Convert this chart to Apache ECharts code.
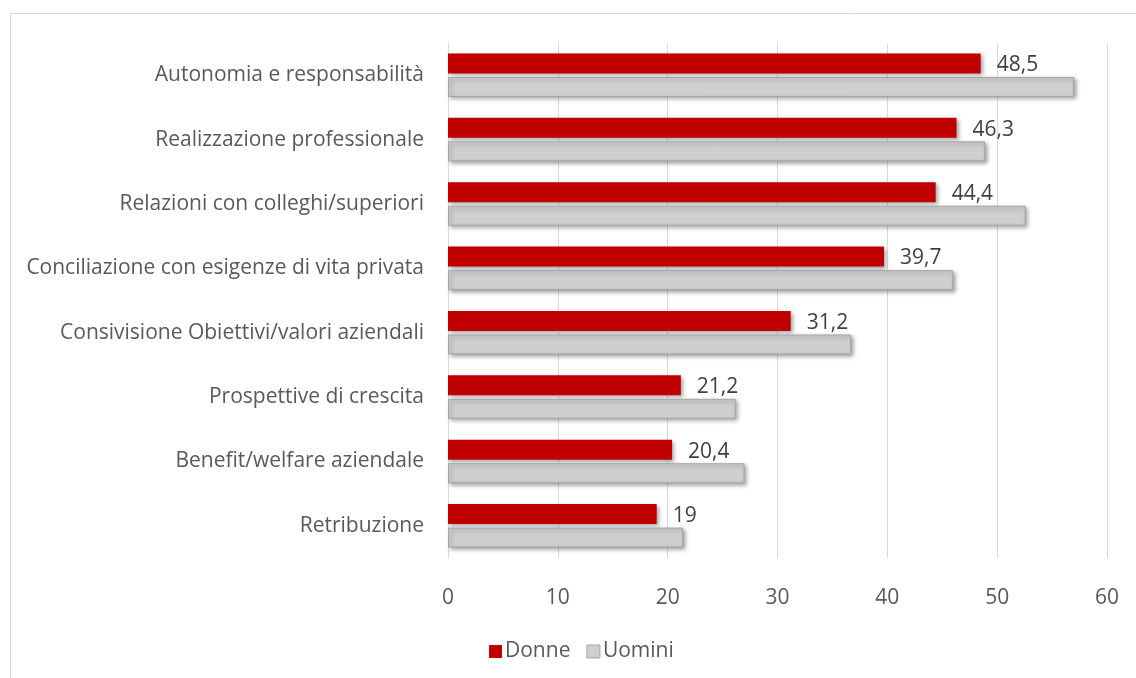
<!DOCTYPE html>
<html>
<head>
<meta charset="utf-8">
<script src="https://cdn.jsdelivr.net/npm/echarts@6/dist/echarts.min.js"></script>
<style>
  html, body { margin: 0; padding: 0; background: #ffffff; }
  #chart { width: 1136px; height: 678px; }
</style>
</head>
<body>
<div id="chart"></div>
<script>
// Categories (top to bottom)
const categories = [
  'Autonomia e responsabilità',
  'Realizzazione professionale',
  'Relazioni con colleghi/superiori',
  'Conciliazione con esigenze di vita privata',
  'Consivisione Obiettivi/valori aziendali',
  'Prospettive di crescita',
  'Benefit/welfare aziendale',
  'Retribuzione'
];
// Series values
const donne = [48.5, 46.3, 44.4, 39.7, 31.2, 21.2, 20.4, 19];
const uomini = [57.0, 48.9, 52.6, 46.0, 36.7, 26.2, 27.0, 21.4];
// Value axis ticks
const xTicks = [0, 10, 20, 30, 40, 50, 60];

const FONT = '"Open Sans", "Noto Sans", sans-serif';
const FS = 21;
const chart = echarts.init(document.getElementById('chart'), null, { renderer: 'canvas' });

const shadow = {
  shadowColor: 'rgba(0,0,0,0.35)',
  shadowBlur: 4,
  shadowOffsetX: 2,
  shadowOffsetY: 2
};

chart.setOption({
  backgroundColor: '#ffffff',
  animation: false,
  graphic: [{
    type: 'rect',
    shape: { x: 10.5, y: 13.5, width: 1140, height: 700 },
    style: { fill: 'none', stroke: '#D9D9D9', lineWidth: 1 },
    silent: true,
    z: -1
  }],
  grid: { left: 448, right: 29, top: 43, bottom: 120, containLabel: false },
  legend: {
    data: [
      { name: 'Donne' },
      { name: 'Uomini', itemStyle: { borderColor: '#A6A6A6', borderWidth: 1 } }
    ],
    icon: 'rect',
    left: 484,
    top: 636,
    itemWidth: 13,
    itemHeight: 13,
    itemGap: 16,
    textStyle: { fontFamily: FONT, fontSize: FS, color: '#595959', padding: [0, 0, 0, -2] }
  },
  xAxis: {
    type: 'value',
    min: xTicks[0],
    max: xTicks[xTicks.length - 1],
    interval: xTicks[1] - xTicks[0],
    axisLine: { show: false },
    axisTick: { show: false },
    splitLine: { show: true, lineStyle: { color: '#D9D9D9', width: 1 } },
    axisLabel: { fontFamily: FONT, fontSize: FS, color: '#595959', margin: 30 }
  },
  yAxis: {
    type: 'category',
    data: categories,
    inverse: true,
    axisLine: { show: true, lineStyle: { color: '#D9D9D9', width: 1 } },
    axisTick: { show: false },
    axisLabel: { fontFamily: FONT, fontSize: FS, color: '#595959', margin: 24, padding: [4, 0, 0, 0] }
  },
  series: [
    {
      name: 'Donne',
      type: 'bar',
      data: donne,
      barWidth: 20,
      barGap: '18%',
      itemStyle: Object.assign({ color: '#C00000' }, shadow),
      label: {
        show: true,
        position: 'right',
        distance: 16,
        offset: [0, 2],
        fontFamily: FONT,
        fontSize: FS,
        color: '#404040',
        formatter: p => String(p.value).replace('.', ',')
      }
    },
    {
      name: 'Uomini',
      type: 'bar',
      data: uomini,
      barWidth: 20,
      itemStyle: Object.assign({ color: '#D0CECE', borderColor: '#A6A6A6', borderWidth: 1 }, shadow)
    }
  ]
});
</script>
</body>
</html>
